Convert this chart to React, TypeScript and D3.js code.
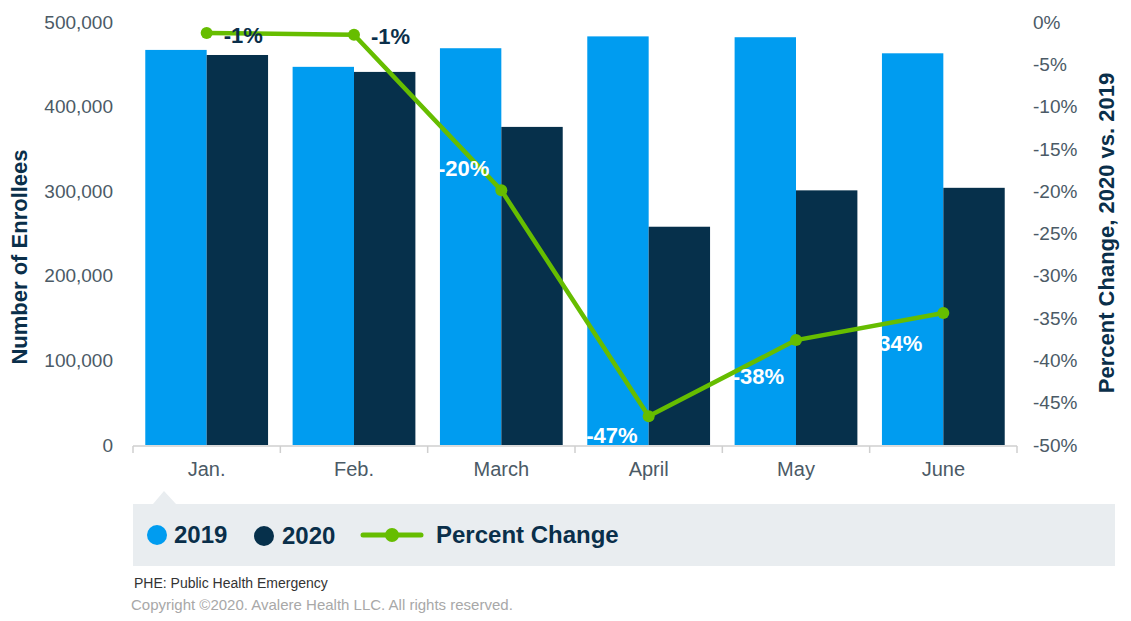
import { useEffect, useRef } from "react";
import * as d3 from "d3";

const W = 1131;
const H = 621;

const MONTHS = ["Jan.", "Feb.", "March", "April", "May", "June"];
const ENROLL_2019 = [467000, 447000, 469000, 483000, 482000, 463000];
const ENROLL_2020 = [461000, 441000, 376000, 258000, 301000, 304000];
const PCT_CHANGE = [-1.3, -1.5, -19.9, -46.6, -37.6, -34.4];
const PCT_LABELS = ["-1%", "-1%", "-20%", "-47%", "-38%", "-34%"];

const LEFT_TICKS = [0, 100000, 200000, 300000, 400000, 500000];
const RIGHT_TICKS = [0, -5, -10, -15, -20, -25, -30, -35, -40, -45, -50];

// data label nudges (px) relative to each point
const LABEL_DX = [17, 17, -12, -11, -12, -21];
const LABEL_DY = [2, 2, -22, 19, 36, 30];

const C2019 = "#009cf0";
const C2020 = "#06304b";
const GREEN = "#66bd00";
const NAVY = "#0a2f4a";
const TICK_GREY = "#4b5a66";
const FONT = "'Liberation Sans', Arial, sans-serif";

const M = { left: 133, right: 1017, top: 22, bottom: 445 };

export default function App() {
  const svgRef = useRef<SVGSVGElement>(null);

  useEffect(() => {
    if (!svgRef.current) return;
    const svg = d3.select(svgRef.current);
    svg.selectAll("*").remove();

    const x = d3.scaleBand<string>().domain(MONTHS).range([M.left, M.right]);
    const inner = d3.scaleBand<string>().domain(["2019", "2020"]).range([0, x.bandwidth()]).paddingInner(0).paddingOuter(0.2);
    const y = d3.scaleLinear().domain([0, 500000]).range([M.bottom, M.top]);
    const yr = d3.scaleLinear().domain([-50, 0]).range([M.bottom, M.top]);

    // bars
    const g = svg.append("g");
    MONTHS.forEach((m, i) => {
      const x0 = x(m)!;
      g.append("rect")
        .attr("x", x0 + inner("2019")!)
        .attr("y", y(ENROLL_2019[i]))
        .attr("width", inner.bandwidth())
        .attr("height", y(0) - y(ENROLL_2019[i]))
        .attr("fill", C2019);
      g.append("rect")
        .attr("x", x0 + inner("2020")!)
        .attr("y", y(ENROLL_2020[i]))
        .attr("width", inner.bandwidth())
        .attr("height", y(0) - y(ENROLL_2020[i]))
        .attr("fill", C2020);
    });

    // x axis
    const xAxis = svg.append("g").attr("transform", `translate(0,${M.bottom + 1})`);
    xAxis.append("line").attr("x1", M.left).attr("x2", M.right).attr("stroke", "#cfcfcf").attr("stroke-width", 1.5);
    const edges = [...MONTHS.map((m) => x(m)!), M.right];
    edges.forEach((e) => {
      xAxis.append("line").attr("x1", e).attr("x2", e).attr("y1", 0).attr("y2", 7).attr("stroke", "#cfcfcf").attr("stroke-width", 1.5);
    });
    MONTHS.forEach((m) => {
      xAxis.append("text")
        .attr("x", x(m)! + x.bandwidth() / 2)
        .attr("y", 30)
        .attr("text-anchor", "middle")
        .attr("font-size", 20)
        .attr("fill", TICK_GREY)
        .text(m);
    });

    // left axis
    const fmt = d3.format(",");
    LEFT_TICKS.forEach((t) => {
      svg.append("text")
        .attr("x", 113)
        .attr("y", y(t))
        .attr("dy", "0.35em")
        .attr("text-anchor", "end")
        .attr("font-size", 19)
        .attr("fill", TICK_GREY)
        .text(fmt(t));
    });
    svg.append("text")
      .attr("transform", `translate(27,257) rotate(-90)`)
      .attr("text-anchor", "middle")
      .attr("font-size", 22)
      .attr("font-weight", "bold")
      .attr("fill", NAVY)
      .text("Number of Enrollees");

    // right axis
    RIGHT_TICKS.forEach((t) => {
      svg.append("text")
        .attr("x", 1033)
        .attr("y", yr(t))
        .attr("dy", "0.35em")
        .attr("font-size", 19)
        .attr("fill", TICK_GREY)
        .text(`${t}%`);
    });
    svg.append("text")
      .attr("transform", `translate(1114,233) rotate(-90)`)
      .attr("text-anchor", "middle")
      .attr("font-size", 22)
      .attr("font-weight", "bold")
      .attr("fill", NAVY)
      .text("Percent Change, 2020 vs. 2019");

    // percent line
    const px = (i: number) => x(MONTHS[i])! + x.bandwidth() / 2;
    const line = d3.line<number>().x((_, i) => px(i)).y((d) => yr(d));
    svg.append("path")
      .datum(PCT_CHANGE)
      .attr("d", line)
      .attr("fill", "none")
      .attr("stroke", GREEN)
      .attr("stroke-width", 4.5)
      .attr("stroke-linejoin", "round");
    PCT_CHANGE.forEach((v, i) => {
      svg.append("circle").attr("cx", px(i)).attr("cy", yr(v)).attr("r", 6).attr("fill", GREEN);
    });

    // data labels: first two sit right of point in navy, rest left in white
    PCT_CHANGE.forEach((v, i) => {
      const right = LABEL_DX[i] > 0;
      svg.append("text")
        .attr("x", px(i) + LABEL_DX[i])
        .attr("y", yr(v) + LABEL_DY[i])
        .attr("dy", "0.35em")
        .attr("text-anchor", right ? "start" : "end")
        .attr("font-size", 22)
        .attr("font-weight", "bold")
        .attr("fill", right ? NAVY : "#fff")
        .text(PCT_LABELS[i]);
    });

    // legend box
    const lg = svg.append("g");
    lg.append("rect").attr("x", 133).attr("y", 504).attr("width", 982).attr("height", 62).attr("fill", "#e9edf0");
    lg.append("path").attr("d", "M153,504 L164,491 L176,504 Z").attr("fill", "#e9edf0");
    const ly = 535;
    lg.append("circle").attr("cx", 157).attr("cy", ly).attr("r", 10).attr("fill", C2019);
    lg.append("text").attr("x", 174).attr("y", ly).attr("dy", "0.35em").attr("font-size", 24).attr("font-weight", "bold").attr("fill", NAVY).text("2019");
    lg.append("circle").attr("cx", 264).attr("cy", ly + 1).attr("r", 10).attr("fill", C2020);
    lg.append("text").attr("x", 282).attr("y", ly + 1).attr("dy", "0.35em").attr("font-size", 24).attr("font-weight", "bold").attr("fill", NAVY).text("2020");
    lg.append("line").attr("x1", 363).attr("x2", 421).attr("y1", ly).attr("y2", ly).attr("stroke", GREEN).attr("stroke-width", 5).attr("stroke-linecap", "round");
    lg.append("circle").attr("cx", 392).attr("cy", ly).attr("r", 7).attr("fill", GREEN);
    lg.append("text").attr("x", 436).attr("y", ly).attr("dy", "0.35em").attr("font-size", 24).attr("font-weight", "bold").attr("fill", NAVY).text("Percent Change");

    // notes
    svg.append("text").attr("x", 134).attr("y", 588).attr("font-size", 14).attr("fill", "#333").text("PHE: Public Health Emergency");
    svg.append("text").attr("x", 131).attr("y", 610).attr("font-size", 15).attr("fill", "#a8a8a8").text("Copyright ©2020. Avalere Health LLC. All rights reserved.");
  }, []);

  return (
    <div style={{ position: "absolute", left: 0, top: 0 }}>
      <svg ref={svgRef} width={W} height={H} style={{ display: "block", fontFamily: FONT, background: "#fff" }} />
    </div>
  );
}
